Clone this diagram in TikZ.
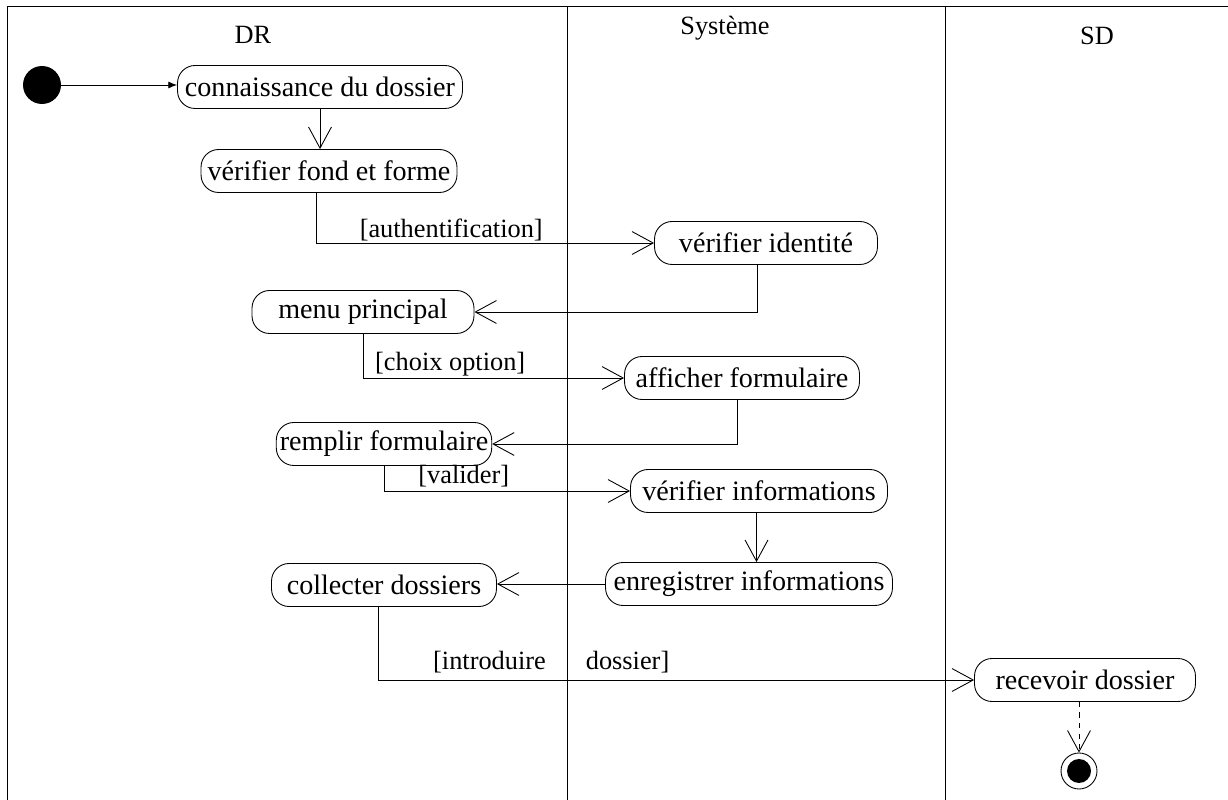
\documentclass[tikz,border=0pt]{standalone}
\usepackage{fontspec}
\setmainfont{Liberation Serif}
\usetikzlibrary{arrows.meta}

\begin{document}
\begin{tikzpicture}[
    x=0.02cm, y=-0.02cm,
    line width=0.5pt,
    activite/.style={draw, rounded corners=10pt, minimum height=0.86cm, inner sep=2pt, font=\fontsize{16}{19}\selectfont},
    flux/.style={-{Straight Barb[length=12pt,width=13pt]}},
    garde/.style={above, inner sep=1pt, font=\fontsize{15}{18}\selectfont},
    couloir/.style={font=\fontsize{15}{18}\selectfont},
  ]
  \useasboundingbox (0,0) rectangle (1228,800);
  % les couloirs
  \draw (7,800) -- (7,6) -- (1228,6);
  \draw (567,6) -- (567,800);
  \draw (945,6) -- (945,800);
  \node[couloir] (dr) at (253,35) {DR};
  \node[couloir] (systeme) at (725,28) {Système};
  \node[couloir] (sd) at (1097,36) {SD};

  % les activites
  \node[circle, fill, minimum size=0.76cm, inner sep=0pt] (debut) at (42,85) {};
  \node[activite, minimum width=5.7cm] (connaissance) at (320,87) {connaissance du dossier};
  \node[activite, minimum width=5.12cm] (verification) at (329,171) {vérifier fond et forme};
  \node[activite, minimum width=4.46cm] (identite) at (766,243) {vérifier identité};
  \node[activite, minimum width=4.44cm] (menu) at (363,312) {menu principal};
  \node[activite, minimum width=4.7cm] (affichage) at (742,378) {afficher formulaire};
  \node[activite, minimum width=4.16cm] (remplir) at (384,444) {remplir formulaire};
  \node[activite, minimum width=5.14cm] (informations) at (759,491) {vérifier informations};
  \node[activite, minimum width=5.74cm] (enregistrer) at (749,584) {enregistrer informations};
  \node[activite, minimum width=4.5cm] (collecte) at (384,585) {collecter dossiers};
  \node[activite, minimum width=4.42cm] (reception) at (1085,680) {recevoir dossier};
  \node[circle, draw, minimum size=0.72cm, inner sep=0pt] (fin) at (1079,771) {};
  \fill (fin.center) circle[radius=0.24cm];

  % les transitions
  \draw[-{Latex[length=5pt,width=4pt]}] (debut) -- (debut -| connaissance.west);
  \draw[flux] (connaissance.south) -- (connaissance.south |- verification.north);
  \draw[flux] ([xshift=-0.26cm]verification.south) |- (identite.west)
    node[garde, pos=0.70] {[authentification]};
  \draw[flux] ([xshift=-0.18cm]identite.south) |- (menu.east);
  \draw[flux] (menu.south) |- (affichage.west)
    node[garde, pos=0.667] {[choix option]};
  \draw[flux] ([xshift=-0.1cm]affichage.south) |- (remplir.east);
  \draw[flux] (remplir.south) |- (informations.west)
    node[garde, pos=0.662, yshift=1pt] {[valider]};
  \draw[flux] ([xshift=-0.05cm]informations.south) -- ([xshift=-0.05cm]informations.south |- enregistrer.north);
  \draw[flux] (enregistrer.west) -- (enregistrer.west -| collecte.east);
  \draw[flux] ([xshift=-0.11cm]collecte.south) |- (reception.west)
    node[garde, pos=0.645, yshift=3pt] {[introduire\hspace{0.8cm}dossier]};
  \draw[flux, dashed] (reception.south -| fin) -- (fin.north);
\end{tikzpicture}
\end{document}
